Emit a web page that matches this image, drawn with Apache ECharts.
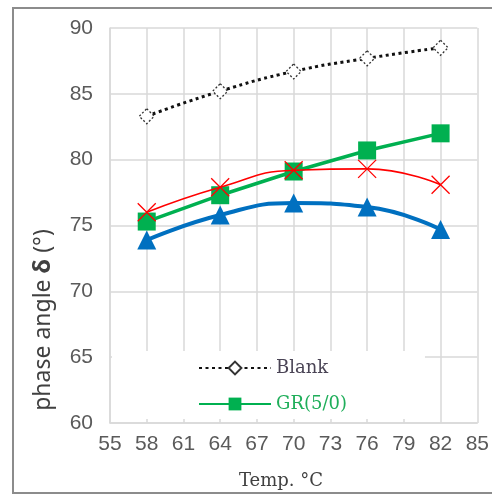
<!DOCTYPE html>
<html>
<head>
<meta charset="utf-8">
<script src="https://cdn.jsdelivr.net/npm/echarts@6/dist/echarts.min.js"></script>
<style>
  html, body { margin: 0; padding: 0; background: #fff; }
  #chart { width: 492px; height: 495px; }
</style>
</head>
<body>
<div id="chart"></div>
<script>
// Temperature sweep (°C) and measured phase angle per sample
const temps = [58, 64, 70, 76, 82];
const blank = [83.3, 85.2, 86.7, 87.7, 88.5];
const gr50 = [75.3, 77.3, 79.1, 80.7, 82.0];
const sampleRed = [76.0, 77.9, 79.2, 79.3, 78.1];
const sampleBlue = [73.9, 75.8, 76.7, 76.4, 74.7];

const xTicks = { min: 55, max: 85, step: 3 };
const yTicks = { min: 60, max: 90, step: 5 };

const pair = (ys) => temps.map((t, i) => [t, ys[i]]);

const chart = echarts.init(document.getElementById('chart'), null, { renderer: 'canvas' });

const labelFont = { fontFamily: 'Liberation Sans', fontSize: 21, color: '#5a5a5a' };
const gridLine = { lineStyle: { color: '#d9d9d9', width: 1.5 } };

chart.setOption({
  animation: false,
  backgroundColor: '#fff',
  grid: { left: 110, right: 14, top: 28, bottom: 72 },
  xAxis: {
    type: 'value',
    min: xTicks.min, max: xTicks.max, interval: xTicks.step,
    axisLine: { show: true, lineStyle: { color: '#d9d9d9', width: 1.5 } },
    axisTick: { show: false },
    splitLine: { show: true, ...gridLine },
    axisLabel: { ...labelFont, margin: 11 }
  },
  yAxis: {
    type: 'value',
    min: yTicks.min, max: yTicks.max, interval: yTicks.step,
    axisLine: { show: true, lineStyle: { color: '#d9d9d9', width: 1.5 } },
    axisTick: { show: false },
    splitLine: { show: true, ...gridLine },
    axisLabel: { ...labelFont, margin: 17 }
  },
  legend: {
    orient: 'vertical',
    left: 112, top: 351,
    backgroundColor: '#fff',
    padding: [8, 78, 6, 86],
    itemWidth: 72, itemHeight: 16, itemGap: 18,
    textStyle: { fontFamily: 'DejaVu Serif', fontSize: 18, color: '#444' },
    data: [
      { name: 'Blank', textStyle: { color: '#4a4455' } },
      { name: 'GR(5/0)', textStyle: { color: '#1fae5a' } }
    ]
  },
  graphic: [
    {
      type: 'rect', silent: true, z: -1,
      shape: { x: 13, y: 8, width: 500, height: 485 },
      style: { fill: 'none', stroke: '#8c8c8c', lineWidth: 2 }
    },
    {
      type: 'text', x: 281, y: 481,
      style: {
        text: 'Temp. °C', font: '18px "DejaVu Serif"', fill: '#404040',
        align: 'center', verticalAlign: 'middle'
      }
    },
    {
      type: 'text', x: 43, y: 320, rotation: Math.PI / 2,
      style: {
        text: 'phase angle {b|δ} (°)',
        font: '23px "Noto Sans"', fill: '#404040',
        align: 'center', verticalAlign: 'middle',
        rich: { b: { fontWeight: 'bold', fontSize: 24, fontFamily: 'Noto Sans', fill: '#404040' } }
      }
    }
  ],
  series: [
    {
      name: 'Blank', type: 'line', smooth: true, data: pair(blank),
      symbol: 'diamond', symbolSize: 15,
      color: '#222',
      lineStyle: { color: '#111', width: 3, type: [3, 3.5] },
      itemStyle: { color: '#fff', borderColor: '#333', borderWidth: 1.3, borderType: [2, 2] },
      z: 2
    },
    {
      name: 'GR(5/0)', type: 'line', smooth: false, data: pair(gr50),
      symbol: 'rect', symbolSize: 18,
      color: '#00b050',
      lineStyle: { color: '#00b050', width: 3.5 },
      itemStyle: { color: '#00b050' },
      z: 3
    },
    {
      name: 'Sample C', type: 'line', smooth: true, data: pair(sampleRed),
      symbol: 'path://M0,0L10,10M10,0L0,10', symbolSize: 18,
      color: '#ff0000',
      lineStyle: { color: '#ff0000', width: 1.6 },
      itemStyle: { color: '#ff0000', borderColor: '#ff0000', borderWidth: 1.3 },
      z: 4
    },
    {
      name: 'Sample D', type: 'line', smooth: true, data: pair(sampleBlue),
      symbol: 'triangle', symbolSize: 19,
      color: '#0070c0',
      lineStyle: { color: '#0070c0', width: 4 },
      itemStyle: { color: '#0070c0' },
      z: 4
    }
  ]
});
</script>
</body>
</html>
